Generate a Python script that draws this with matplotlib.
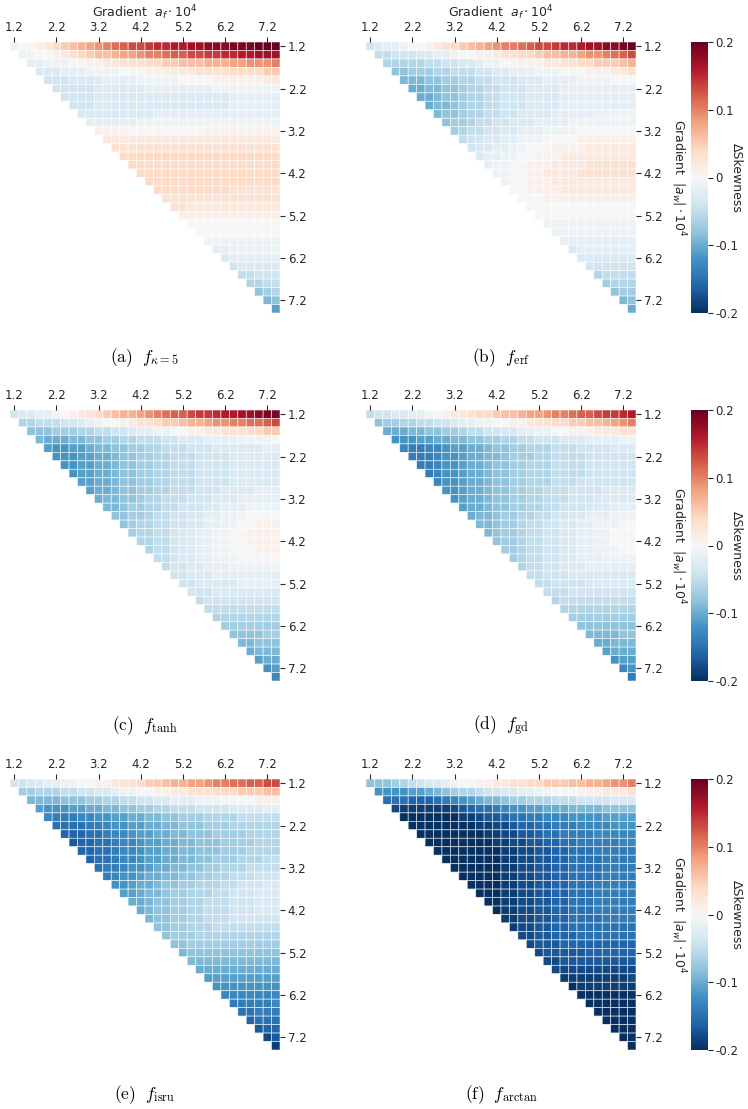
import sys
import numpy as np
import matplotlib
matplotlib.use("Agg")
import matplotlib.pyplot as plt
from matplotlib.colors import Normalize
from matplotlib.colorbar import ColorbarBase

plt.rcParams["font.family"] = ["DejaVu Sans"]

# ---------------- data ----------------
gradient_values = [1.2, 1.4, 1.6, 1.8, 2.0, 2.2, 2.4, 2.6, 2.8, 3.0, 3.2, 3.4, 3.6, 3.8, 4.0, 4.2,
                   4.4, 4.6, 4.8, 5.0, 5.2, 5.4, 5.6, 5.8, 6.0, 6.2, 6.4, 6.6, 6.8, 7.0, 7.2, 7.4]
tick_labels = ["1.2", "2.2", "3.2", "4.2", "5.2", "6.2", "7.2"]
tick_values = [1.2, 2.2, 3.2, 4.2, 5.2, 6.2, 7.2]
cbar_ticks = [-0.2, -0.1, 0.0, 0.1, 0.2]
cbar_labels = ["-0.2", "-0.1", "0", "0.1", "0.2"]
captions = [r"$\mathrm{(a)}\ \ f_{\kappa=5}$", r"$\mathrm{(b)}\ \ f_{\mathrm{erf}}$",
            r"$\mathrm{(c)}\ \ f_{\mathrm{tanh}}$", r"$\mathrm{(d)}\ \ f_{\mathrm{gd}}$",
            r"$\mathrm{(e)}\ \ f_{\mathrm{isru}}$", r"$\mathrm{(f)}\ \ f_{\mathrm{arctan}}$"]

# Delta skewness in units of 0.01; row r (a_w) holds columns a_f >= a_w
kappa5_rows = [
    [-1,0,0,1,2,4,5,6,7,8,9,10,11,12,13,13,14,15,15,16,16,17,17,18,18,18,19,19,19,20,20,20],
    [-1,-1,0,0,1,2,3,4,5,6,6,7,8,8,9,10,10,11,12,12,13,13,14,14,15,15,16,16,17,17,17],
    [-2,-2,-1,-1,-1,0,0,1,1,2,2,3,3,3,4,4,5,5,6,6,6,7,7,7,8,8,9,9,9,10],
    [-3,-3,-3,-2,-2,-2,-1,-1,-1,-1,0,0,0,1,1,1,2,2,2,3,3,3,3,4,4,4,4,5,5],
    [-4,-4,-4,-3,-3,-3,-3,-2,-2,-2,-2,-1,-1,-1,-1,-1,0,0,0,0,1,1,1,1,1,1,2,2],
    [-4,-4,-4,-4,-4,-3,-3,-3,-3,-3,-3,-2,-2,-2,-2,-2,-2,-2,-2,-1,-1,-1,-1,-1,-1,-1,-1],
    [-4,-4,-4,-4,-3,-3,-3,-3,-3,-3,-3,-3,-3,-3,-3,-3,-3,-3,-3,-3,-2,-2,-2,-2,-2,-2],
    [-4,-4,-4,-3,-3,-3,-3,-3,-3,-3,-3,-3,-3,-3,-3,-3,-3,-3,-3,-2,-2,-2,-2,-2,-2],
    [-3,-3,-3,-3,-3,-3,-3,-3,-3,-2,-2,-2,-2,-2,-2,-2,-2,-2,-2,-2,-2,-2,-2,-2],
    [-2,-2,-2,-2,-2,-2,-1,-1,-1,-1,-1,-1,-1,-1,-1,-1,-1,-1,-1,-1,-1,-1,-1],
    [1,1,1,1,0,0,0,0,0,0,0,0,0,1,1,1,1,1,1,1,1,1],
    [2,2,2,2,2,2,2,2,2,2,2,2,2,2,2,2,2,2,2,2,2],
    [3,3,3,3,3,3,3,3,3,3,3,3,3,3,3,3,3,3,3,3],
    [4,4,4,4,4,4,4,4,4,4,4,4,4,4,4,4,4,4,4],
    [4,4,4,4,4,4,4,4,4,4,4,4,4,4,4,4,4,4],
    [4,4,4,4,4,4,4,4,4,4,4,4,4,4,4,4,4],
    [4,4,4,4,4,4,4,4,4,4,4,4,4,4,4,4],
    [4,4,4,4,4,4,4,4,4,3,3,3,3,3,3],
    [3,3,3,3,3,3,3,3,3,3,3,3,3,3],
    [3,3,2,2,2,2,2,2,2,2,2,2,2],
    [1,1,1,1,1,1,1,1,1,1,1,1],
    [0,0,0,0,0,0,0,0,0,0,0],
    [0,0,0,0,0,0,0,0,0,0],
    [-1,-1,-1,-1,-1,-1,-1,-1,-1],
    [-2,-2,-1,-1,-1,-1,-1,-1],
    [-3,-2,-2,-2,-2,-2,-2],
    [-4,-3,-3,-3,-3,-3],
    [-5,-5,-4,-4,-4],
    [-6,-6,-5,-5],
    [-8,-7,-6],
    [-9,-8],
    [-11],
]

erf_rows = [
    [-4,-3,-2,-2,-1,0,0,1,2,3,4,5,6,7,8,9,10,10,11,12,13,13,14,15,15,16,17,17,18,18,19,20],
    [-5,-5,-4,-4,-4,-3,-3,-2,-2,-1,0,0,1,1,2,3,3,4,4,5,6,6,7,7,8,9,9,10,11,12,13],
    [-6,-6,-6,-6,-6,-5,-5,-4,-4,-3,-3,-2,-1,-1,0,0,1,1,1,2,2,3,3,4,4,5,5,5,6,7],
    [-8,-8,-7,-7,-7,-6,-6,-5,-5,-5,-4,-4,-3,-3,-2,-2,-2,-1,-1,-1,0,0,0,1,1,1,2,2,3],
    [-9,-9,-9,-8,-8,-7,-7,-6,-6,-5,-5,-4,-4,-4,-3,-3,-3,-2,-2,-2,-2,-1,-1,-1,-1,0,0,0],
    [-10,-10,-9,-9,-8,-8,-7,-6,-6,-5,-5,-4,-4,-4,-3,-3,-3,-3,-2,-2,-2,-2,-2,-2,-2,-2,-2],
    [-10,-10,-9,-8,-8,-7,-6,-6,-5,-5,-4,-4,-4,-3,-3,-3,-3,-2,-2,-2,-2,-2,-2,-2,-2,-2],
    [-10,-9,-9,-8,-7,-6,-6,-5,-5,-4,-4,-4,-3,-3,-3,-3,-2,-2,-2,-2,-2,-2,-2,-2,-2],
    [-9,-8,-8,-7,-6,-6,-5,-5,-4,-4,-3,-3,-3,-3,-2,-2,-2,-2,-2,-1,-1,-1,-1,-1],
    [-8,-7,-7,-6,-5,-5,-4,-4,-3,-3,-3,-2,-2,-2,-2,-1,-1,-1,-1,-1,-1,-1,-1],
    [-7,-6,-5,-5,-4,-4,-3,-3,-2,-2,-2,-1,-1,-1,-1,0,0,0,0,0,0,0],
    [-5,-4,-4,-3,-3,-2,-2,-1,-1,-1,0,0,0,0,1,1,1,1,1,1,1],
    [-4,-3,-3,-2,-2,-1,-1,0,0,0,1,1,1,1,2,2,2,2,2,2],
    [-3,-2,-2,-1,-1,0,0,1,1,1,2,2,2,2,2,2,2,2,2],
    [-2,-1,-1,0,0,1,1,1,2,2,2,2,3,3,3,3,3,3],
    [-1,-1,0,0,1,1,2,2,2,2,3,3,3,3,3,3,3],
    [-1,0,0,1,1,1,2,2,2,2,2,2,2,2,2,2],
    [0,0,1,1,1,1,2,2,2,2,2,2,2,2,2],
    [0,0,0,1,1,1,1,1,1,1,1,1,1,1],
    [0,0,0,0,0,0,0,0,0,0,0,0,0],
    [0,0,0,0,0,0,0,0,0,0,0,0],
    [-1,-1,-1,-1,-1,-1,-1,-1,-1,-1,-1],
    [-1,-1,-1,-1,-1,-1,-1,-1,-1,-1],
    [-2,-2,-2,-2,-2,-2,-2,-2,-2],
    [-3,-2,-2,-2,-2,-2,-2,-2],
    [-3,-3,-3,-3,-3,-3,-3],
    [-4,-4,-4,-4,-4,-4],
    [-6,-5,-5,-5,-5],
    [-7,-6,-6,-6],
    [-8,-7,-7],
    [-9,-8],
    [-10],
]

tanh_rows = [
    [-4,-3,-3,-2,-2,-1,0,1,2,3,4,5,6,7,7,8,9,10,11,12,12,13,14,14,15,16,16,17,17,18,19,19],
    [-6,-6,-5,-5,-5,-4,-4,-3,-2,-1,0,0,1,2,3,3,4,5,5,6,7,7,8,9,9,10,10,11,11,12,13],
    [-8,-8,-8,-7,-7,-7,-6,-6,-5,-5,-4,-4,-3,-2,-2,-1,-1,0,0,1,1,2,2,3,3,3,4,4,5,5],
    [-9,-10,-10,-10,-9,-9,-8,-8,-7,-7,-6,-6,-5,-5,-5,-4,-4,-3,-3,-3,-2,-2,-2,-2,-1,-1,-1,-1,0],
    [-11,-12,-12,-11,-11,-10,-9,-9,-8,-8,-7,-7,-6,-6,-5,-5,-5,-4,-4,-4,-3,-3,-3,-3,-3,-3,-2,-2],
    [-12,-12,-12,-11,-11,-10,-10,-9,-8,-8,-7,-7,-6,-6,-5,-5,-5,-4,-4,-4,-4,-3,-3,-3,-3,-3,-3],
    [-12,-12,-11,-11,-10,-10,-9,-8,-8,-7,-7,-6,-6,-5,-5,-5,-4,-4,-4,-4,-3,-3,-3,-3,-3,-3],
    [-12,-11,-11,-10,-10,-9,-8,-8,-7,-7,-6,-6,-5,-5,-5,-4,-4,-4,-4,-3,-3,-3,-3,-3,-3],
    [-11,-11,-10,-10,-9,-8,-8,-7,-7,-6,-6,-5,-5,-5,-4,-4,-4,-4,-3,-3,-3,-3,-3,-3],
    [-11,-10,-10,-9,-8,-8,-7,-7,-6,-6,-5,-5,-5,-4,-4,-4,-3,-3,-3,-3,-2,-2,-2],
    [-10,-9,-9,-8,-8,-7,-6,-6,-5,-5,-5,-4,-4,-4,-3,-3,-3,-2,-2,-2,-2,-2],
    [-9,-9,-8,-7,-7,-6,-6,-5,-5,-4,-4,-4,-3,-3,-2,-2,-2,-1,-1,-1,-1],
    [-8,-8,-7,-7,-6,-5,-5,-4,-4,-3,-3,-2,-2,-1,-1,-1,0,0,0,0],
    [-8,-7,-6,-6,-5,-5,-4,-4,-3,-3,-2,-2,-1,-1,0,0,1,1,1],
    [-7,-6,-6,-5,-5,-4,-3,-3,-2,-2,-1,-1,0,0,1,1,1,1],
    [-6,-6,-5,-5,-4,-3,-3,-2,-2,-1,-1,0,0,1,1,1,1],
    [-6,-5,-5,-4,-3,-3,-2,-2,-1,-1,0,0,0,1,1,1],
    [-5,-5,-4,-3,-3,-2,-2,-1,-1,-1,0,0,0,0,0],
    [-5,-4,-4,-3,-3,-2,-2,-2,-1,-1,-1,-1,-1,-1],
    [-4,-4,-3,-3,-3,-2,-2,-2,-2,-2,-2,-2,-2],
    [-4,-4,-3,-3,-3,-3,-3,-2,-2,-2,-2,-2],
    [-4,-4,-4,-3,-3,-3,-3,-3,-3,-3,-3],
    [-5,-4,-4,-4,-4,-4,-4,-4,-4,-4],
    [-5,-5,-5,-5,-5,-5,-5,-5,-5],
    [-6,-6,-6,-6,-6,-6,-6,-6],
    [-7,-7,-7,-7,-7,-7,-7],
    [-8,-8,-8,-8,-7,-7],
    [-9,-9,-8,-8,-8],
    [-10,-9,-9,-9],
    [-11,-10,-10],
    [-12,-11],
    [-13],
]

gd_rows = [
    [-5,-4,-4,-3,-3,-2,-2,-1,0,1,2,2,3,4,4,5,6,6,7,8,8,9,10,10,11,12,12,13,14,14,15,16],
    [-8,-7,-7,-6,-6,-5,-5,-4,-4,-3,-2,-2,-1,-1,0,0,1,1,2,3,3,4,4,5,5,6,6,7,8,9,10],
    [-10,-10,-10,-9,-9,-8,-8,-7,-7,-6,-5,-5,-4,-4,-3,-3,-2,-2,-1,-1,0,0,1,1,1,2,2,2,3,3],
    [-12,-12,-12,-11,-11,-10,-10,-9,-9,-8,-8,-7,-7,-6,-6,-5,-5,-4,-4,-4,-3,-3,-3,-2,-2,-2,-2,-1,-1],
    [-13,-14,-14,-13,-13,-12,-11,-11,-10,-10,-9,-8,-8,-7,-7,-6,-6,-6,-5,-5,-5,-4,-4,-4,-4,-3,-3,-3],
    [-14,-14,-14,-13,-12,-12,-11,-10,-10,-9,-9,-8,-7,-7,-7,-6,-6,-5,-5,-5,-5,-4,-4,-4,-4,-4,-4],
    [-14,-14,-13,-12,-12,-11,-10,-10,-9,-8,-8,-7,-7,-6,-6,-6,-5,-5,-5,-5,-4,-4,-4,-4,-4,-4],
    [-14,-13,-12,-12,-11,-10,-10,-9,-8,-8,-7,-7,-6,-6,-6,-5,-5,-5,-5,-4,-4,-4,-4,-4,-4],
    [-13,-12,-12,-11,-10,-10,-9,-8,-8,-7,-7,-6,-6,-6,-5,-5,-5,-4,-4,-4,-4,-4,-4,-4],
    [-12,-12,-11,-10,-10,-9,-8,-8,-7,-7,-6,-6,-5,-5,-5,-4,-4,-4,-4,-3,-3,-3,-3],
    [-12,-11,-10,-10,-9,-8,-8,-7,-7,-6,-6,-5,-5,-5,-4,-4,-4,-3,-3,-3,-3,-3],
    [-11,-10,-10,-9,-8,-8,-7,-7,-6,-6,-5,-5,-4,-4,-4,-3,-3,-3,-2,-2,-2],
    [-10,-9,-9,-8,-7,-7,-6,-6,-5,-5,-4,-4,-3,-3,-2,-2,-2,-1,-1,-1],
    [-9,-9,-8,-7,-7,-6,-5,-5,-4,-4,-3,-3,-2,-2,-1,-1,-1,0,0],
    [-9,-8,-7,-7,-6,-5,-5,-4,-4,-3,-3,-2,-2,-1,-1,0,0,0],
    [-8,-7,-7,-6,-5,-5,-4,-4,-3,-3,-2,-2,-1,-1,0,0,0],
    [-7,-7,-6,-5,-5,-4,-4,-3,-3,-2,-2,-1,-1,-1,0,0],
    [-7,-6,-5,-5,-4,-4,-3,-3,-2,-2,-2,-1,-1,-1,-1],
    [-6,-5,-5,-4,-4,-3,-3,-3,-2,-2,-2,-2,-2,-2],
    [-5,-5,-4,-4,-4,-3,-3,-3,-3,-3,-3,-3,-3],
    [-5,-5,-4,-4,-4,-4,-3,-3,-3,-3,-3,-3],
    [-5,-5,-5,-4,-4,-4,-4,-4,-4,-4,-4],
    [-6,-5,-5,-5,-5,-5,-5,-5,-5,-5],
    [-6,-6,-6,-6,-6,-6,-6,-6,-6],
    [-7,-7,-7,-7,-7,-7,-7,-7],
    [-8,-8,-8,-8,-8,-8,-8],
    [-9,-9,-9,-9,-8,-8],
    [-10,-10,-9,-9,-9],
    [-11,-10,-10,-10],
    [-12,-11,-11],
    [-13,-12],
    [-14],
]

isru_rows = [
    [-4,-4,-3,-3,-2,-2,-1,-1,0,0,1,1,2,3,3,4,5,5,6,7,7,8,8,9,10,10,11,11,12,12,13,13],
    [-7,-7,-6,-6,-6,-5,-5,-4,-4,-3,-3,-2,-1,-1,0,0,1,1,2,2,3,3,3,4,4,4,5,5,5,6,6],
    [-9,-9,-9,-9,-8,-8,-8,-7,-7,-6,-6,-5,-5,-4,-4,-3,-3,-2,-2,-2,-1,-1,-1,0,0,0,0,1,1,1],
    [-11,-12,-12,-12,-11,-11,-10,-10,-9,-9,-8,-8,-7,-7,-6,-6,-5,-5,-5,-4,-4,-4,-4,-3,-3,-3,-3,-2,-2],
    [-13,-14,-14,-14,-13,-13,-12,-12,-11,-11,-10,-10,-9,-9,-8,-8,-7,-7,-7,-6,-6,-6,-6,-5,-5,-5,-5,-5],
    [-15,-15,-15,-15,-14,-14,-13,-12,-12,-11,-11,-10,-10,-9,-9,-8,-8,-8,-7,-7,-7,-6,-6,-6,-6,-6,-6],
    [-16,-16,-16,-15,-15,-14,-13,-13,-12,-11,-11,-10,-10,-9,-9,-8,-8,-8,-7,-7,-7,-7,-6,-6,-6,-6],
    [-17,-16,-16,-15,-15,-14,-13,-13,-12,-11,-11,-10,-10,-9,-9,-8,-8,-8,-7,-7,-7,-7,-6,-6,-6],
    [-16,-16,-15,-15,-14,-13,-13,-12,-11,-11,-10,-10,-9,-9,-8,-8,-8,-7,-7,-7,-6,-6,-6,-6],
    [-16,-15,-15,-14,-13,-13,-12,-11,-11,-10,-10,-9,-9,-8,-8,-7,-7,-7,-6,-6,-6,-5,-5],
    [-15,-14,-14,-13,-12,-12,-11,-10,-10,-9,-9,-8,-8,-7,-7,-6,-6,-6,-5,-5,-5,-5],
    [-14,-13,-12,-12,-11,-10,-10,-9,-9,-8,-8,-7,-7,-6,-6,-5,-5,-5,-4,-4,-4],
    [-12,-12,-11,-10,-10,-9,-8,-8,-7,-7,-6,-6,-6,-5,-5,-4,-4,-4,-3,-3],
    [-11,-11,-10,-9,-9,-8,-7,-7,-6,-6,-6,-5,-5,-4,-4,-4,-3,-3,-3],
    [-10,-10,-9,-8,-8,-7,-7,-6,-6,-5,-5,-5,-4,-4,-4,-3,-3,-3],
    [-10,-9,-8,-8,-7,-7,-6,-6,-5,-5,-5,-4,-4,-4,-3,-3,-3],
    [-9,-8,-8,-7,-7,-6,-6,-5,-5,-5,-4,-4,-4,-4,-4,-4],
    [-8,-8,-7,-7,-6,-6,-6,-5,-5,-5,-5,-5,-5,-5,-5],
    [-8,-7,-7,-7,-6,-6,-6,-6,-6,-6,-6,-6,-6,-6],
    [-8,-8,-7,-7,-7,-7,-7,-7,-7,-7,-7,-7,-7],
    [-9,-8,-8,-8,-8,-8,-8,-8,-8,-8,-8,-8],
    [-9,-9,-9,-9,-9,-9,-9,-9,-9,-9,-9],
    [-10,-10,-10,-10,-10,-10,-10,-10,-10,-10],
    [-11,-11,-11,-11,-11,-11,-11,-11,-11],
    [-12,-12,-12,-12,-12,-12,-12,-12],
    [-13,-13,-13,-13,-13,-13,-13],
    [-14,-14,-14,-14,-14,-13],
    [-15,-15,-14,-14,-14],
    [-16,-15,-15,-15],
    [-17,-16,-16],
    [-18,-17],
    [-19],
]

arctan_rows = [
    [-8,-8,-8,-7,-6,-5,-4,-3,-3,-2,-1,0,0,1,1,2,2,3,3,4,4,5,5,5,6,6,7,7,8,9,9,10],
    [-12,-12,-12,-12,-11,-11,-10,-9,-8,-7,-6,-6,-5,-4,-4,-3,-3,-2,-2,-1,-1,0,0,0,1,1,1,2,2,2,3],
    [-15,-15,-15,-16,-16,-16,-15,-14,-13,-12,-11,-10,-9,-9,-8,-7,-7,-6,-6,-6,-5,-5,-5,-4,-4,-4,-4,-3,-3,-3],
    [-18,-19,-19,-19,-19,-19,-19,-18,-17,-16,-15,-15,-14,-13,-12,-12,-11,-11,-10,-10,-10,-9,-9,-9,-9,-8,-8,-8,-8],
    [-20,-20,-20,-20,-20,-20,-20,-19,-19,-18,-17,-17,-16,-15,-15,-14,-14,-13,-13,-13,-12,-12,-12,-12,-11,-11,-11,-11],
    [-20,-20,-20,-20,-20,-20,-20,-20,-19,-19,-18,-18,-17,-16,-16,-15,-15,-14,-14,-14,-13,-13,-13,-13,-12,-12,-12],
    [-20,-20,-20,-20,-20,-20,-20,-20,-19,-19,-18,-18,-17,-17,-16,-15,-15,-14,-14,-14,-14,-13,-13,-13,-13,-13],
    [-20,-20,-20,-20,-20,-20,-20,-20,-19,-19,-18,-18,-17,-17,-16,-16,-15,-15,-14,-14,-14,-14,-14,-13,-13],
    [-20,-20,-20,-20,-20,-20,-20,-20,-19,-19,-18,-18,-17,-17,-16,-16,-15,-15,-15,-14,-14,-14,-14,-14],
    [-20,-20,-20,-20,-20,-20,-20,-19,-19,-18,-18,-17,-17,-16,-16,-15,-15,-15,-15,-14,-14,-14,-14],
    [-20,-20,-20,-20,-20,-20,-19,-19,-18,-18,-17,-17,-16,-16,-15,-15,-15,-15,-14,-14,-14,-14],
    [-20,-20,-20,-20,-20,-19,-19,-18,-18,-17,-17,-16,-16,-15,-15,-15,-15,-14,-14,-14,-14],
    [-20,-20,-20,-20,-19,-19,-18,-18,-17,-17,-16,-16,-15,-15,-15,-14,-14,-14,-14,-14],
    [-20,-20,-20,-19,-19,-18,-18,-17,-17,-16,-16,-15,-15,-15,-14,-14,-14,-14,-14],
    [-20,-20,-19,-19,-18,-18,-17,-17,-16,-16,-15,-15,-15,-14,-14,-14,-14,-14],
    [-20,-19,-19,-18,-18,-17,-17,-16,-16,-15,-15,-15,-14,-14,-14,-14,-14],
    [-19,-19,-18,-18,-17,-17,-16,-16,-15,-15,-15,-15,-14,-14,-14,-14],
    [-19,-18,-18,-17,-17,-16,-16,-15,-15,-15,-15,-15,-15,-15,-15],
    [-18,-18,-17,-17,-16,-16,-16,-15,-15,-15,-15,-15,-15,-15],
    [-18,-17,-17,-17,-16,-16,-16,-16,-16,-16,-16,-16,-16],
    [-18,-17,-17,-17,-17,-17,-16,-16,-16,-16,-16,-16],
    [-18,-18,-17,-17,-17,-17,-17,-17,-17,-17,-17],
    [-18,-18,-18,-18,-18,-18,-18,-18,-18,-18],
    [-19,-19,-19,-19,-19,-19,-19,-19,-18],
    [-20,-19,-19,-19,-19,-19,-19,-19],
    [-20,-20,-20,-20,-20,-20,-20],
    [-20,-20,-20,-20,-20,-20],
    [-20,-20,-20,-20,-20],
    [-20,-20,-20,-20],
    [-20,-20,-20],
    [-20,-20],
    [-20],
]

panels = [kappa5_rows, erf_rows, tanh_rows, gd_rows, isru_rows, arctan_rows]

# ---------------- layout ----------------
W, H = 748, 1109
fig = plt.figure(figsize=(W / 100, H / 100), dpi=100)

def rect(x0, ytop, w, h):
    return [x0 / W, 1 - (ytop + h) / H, w / W, h / H]

col_x = [10, 366]
row_top = [42, 410, 779]
hm_w, hm_h = 270, 271
cb_x, cb_w = 691, 17

n = len(gradient_values)
norm = Normalize(vmin=-0.2, vmax=0.2)
cmap = plt.get_cmap("RdBu_r")
txt_col = "#262626"
tick_pos = [gradient_values.index(v) + 0.5 for v in tick_values]

for k, rows in enumerate(panels):
    r_i, c_i = divmod(k, 2)
    M = np.full((n, n), np.nan)
    for r, row in enumerate(rows):
        if len(row) != n - r:
            print(f"panel {k} row {r}: {len(row)} values, expected {n - r}", file=sys.stderr)
        vals = np.array(row[: n - r], dtype=float) / 100.0
        M[r, r : r + len(vals)] = vals
    ax = fig.add_axes(rect(col_x[c_i], row_top[r_i], hm_w, hm_h))
    mesh = ax.pcolormesh(np.arange(n + 1), np.arange(n + 1), np.ma.masked_invalid(M),
                         cmap=cmap, norm=norm, edgecolors=(1, 1, 1, 0.75), linewidth=0.5,
                         antialiased=True, snap=False)
    ax.set_xlim(0, n)
    ax.set_ylim(n, 0)
    for s in ax.spines.values():
        s.set_visible(False)
    ax.xaxis.tick_top()
    ax.yaxis.tick_right()
    ax.set_xticks(tick_pos)
    ax.set_xticklabels(tick_labels)
    ax.set_yticks(tick_pos)
    ax.set_yticklabels(tick_labels)
    ax.tick_params(length=3.5, width=0.8, pad=2, labelsize=8.5, colors=txt_col)

    cx = (col_x[c_i] + hm_w / 2) / W
    if r_i == 0:
        fig.text(cx, 1 - 13 / H, r"Gradient  $a_f \cdot 10^4$", ha="center", va="center",
                 fontsize=9, color=txt_col)
    fig.text(cx, 1 - (row_top[r_i] + hm_h + 45) / H, captions[k], ha="center", va="center",
             fontsize=12.5, math_fontfamily="cm", color="black")

    if c_i == 1:
        fig.text(678 / W, 1 - (row_top[r_i] + hm_h / 2) / H, r"Gradient  $|a_w| \cdot 10^4$",
                 rotation=270, ha="center", va="center", fontsize=9, color=txt_col)
        cax = fig.add_axes(rect(cb_x, row_top[r_i], cb_w, hm_h))
        cb = ColorbarBase(cax, cmap=cmap, norm=norm, ticks=cbar_ticks)
        cb.set_ticklabels(cbar_labels)
        cb.outline.set_visible(False)
        cax.tick_params(length=3.5, width=0.8, pad=2, labelsize=8.5, colors=txt_col)
        fig.text(736 / W, 1 - (row_top[r_i] + hm_h / 2) / H, "ΔSkewness", rotation=270,
                 ha="center", va="center", fontsize=9, color=txt_col)

fig.savefig("out.png", dpi=100)
